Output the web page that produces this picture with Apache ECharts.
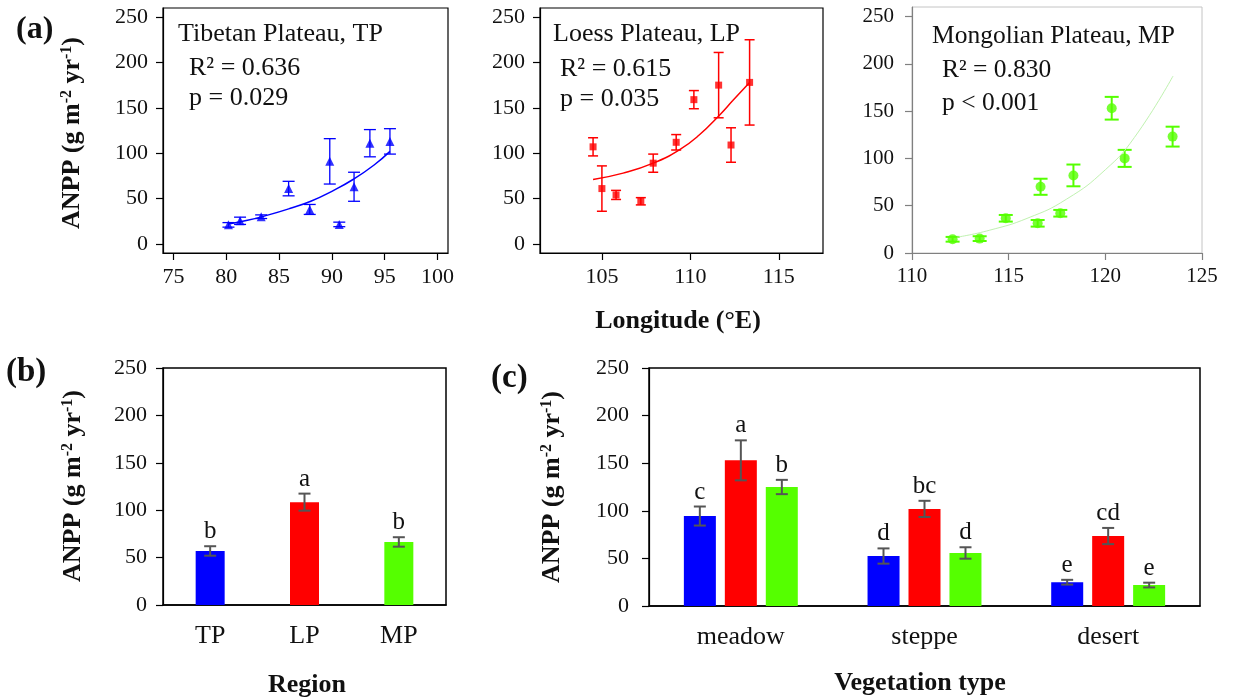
<!DOCTYPE html>
<html>
<head>
<meta charset="utf-8">
<script src="https://cdn.jsdelivr.net/npm/echarts@6.0.0/dist/echarts.min.js"></script>
<style>
  html, body { margin: 0; padding: 0; background: #fff; }
  #main { width: 1234px; height: 700px; }
</style>
</head>
<body>
<div id="main"></div>
<script>
// ---- data ----
const anppTicks = [0, 50, 100, 150, 200, 250]
const tpTicks = [75, 80, 85, 90, 95, 100]
const lpTicks = [105, 110, 115]
const mpTicks = [110, 115, 120, 125]

// (a) Tibetan Plateau
const tpLon = [80.2, 81.3, 83.3, 85.9, 87.9, 89.8, 90.7, 92.1, 93.6, 95.5]
const tpAnpp = [21, 25.5, 30, 61, 38, 91, 21.5, 63, 111, 113]
const tpErr = [2.5, 4, 2, 8, 5.5, 25, 2.5, 16, 15, 14]
const tpFitLon = [80.2, 82, 84, 86, 88, 90, 92, 94, 95.5]
const tpFitAnpp = [22, 26, 32, 39, 47, 58, 71, 87, 102]

// (a) Loess Plateau
const lpLon = [104.5, 105.0, 105.8, 107.2, 107.9, 109.2, 110.2, 111.6, 112.3, 113.35]
const lpAnpp = [107, 61, 54, 47, 89, 112, 159, 175, 109, 178]
const lpErr = [10, 25, 5, 4, 10, 8.5, 10, 36, 19, 47]
const lpFitLon = [104.5, 106.2, 107.9, 109.4, 110.5, 111.7, 112.4, 113.35]
const lpFitAnpp = [71, 78, 89, 104, 120, 143, 158, 178]

// (a) Mongolian Plateau
const mpLon = [112.1, 113.5, 114.85, 116.5, 116.65, 117.67, 118.35, 120.33, 121.0, 123.48]
const mpAnpp = [14.5, 15.2, 36.7, 31.4, 70, 42, 82, 153, 100, 123]
const mpErr = [2.5, 2.5, 3.5, 3.5, 8.5, 3.5, 11.5, 12, 9, 10.5]
const mpFitLon = [112.3, 114, 116, 118, 120, 121.5, 123.5]
const mpFitAnpp = [16.6, 24, 37, 57, 88, 122, 187]

// (b) by region
const regions = ['TP', 'LP', 'MP']
const regionMean = [57, 108.5, 66.5]
const regionErr = [5, 9, 5]
const regionLetters = ['b', 'a', 'b']

// (c) by vegetation type
const vegTypes = ['meadow', 'steppe', 'desert']
const vegTP = [94.5, 52.5, 25]
const vegTPErr = [10, 8, 2.5]
const vegTPLetters = ['c', 'd', 'e']
const vegLP = [153, 102, 73.5]
const vegLPErr = [21, 8.5, 8.5]
const vegLPLetters = ['a', 'bc', 'cd']
const vegMP = [125, 55.7, 22]
const vegMPErr = [7.5, 6, 2.5]
const vegMPLetters = ['b', 'd', 'e']

const BLUE = '#0000ff'
const RED = '#ff0000'
const GREEN = '#55ff00'
const FONT = 'Liberation Serif'

// ---- helpers ----
function pairs(xs, ys, extra) {
  return xs.map((x, i) => extra ? [x, ys[i], extra[i]] : [x, ys[i]])
}

function valAxis(grid, min, max, ticks, color, margin, size) {
  return {
    type: 'value', gridIndex: grid, min: min, max: max,
    axisLine: { show: true, onZero: false, lineStyle: { color: color, width: 1.2 } },
    axisTick: { show: true, customValues: ticks, length: 7, lineStyle: { color: color, width: 1.2 } },
    axisLabel: { customValues: ticks, margin: margin, fontFamily: FONT, fontSize: size || 22, color: '#111' },
    splitLine: { show: false }
  }
}

function catAxis(grid, cats) {
  return {
    type: 'category', gridIndex: grid, data: cats,
    axisLine: { lineStyle: { color: '#000', width: 1.5 } },
    axisTick: { alignWithLabel: true, length: 6, lineStyle: { color: '#000', width: 1.5 } },
    axisLabel: { margin: 18, fontFamily: FONT, fontSize: 26, color: '#111' }
  }
}

// vertical error bar with caps for scatter points
function scatterErr(xi, yi, data, color, cap, lw) {
  return {
    type: 'custom', xAxisIndex: xi, yAxisIndex: yi, z: 2,
    data: data, encode: { x: 0, y: 1 },
    renderItem: function(params, api) {
      const x = api.value(0), y = api.value(1), e = api.value(2)
      const a = api.coord([x, y + e]), b = api.coord([x, y - e])
      const st = { stroke: color, lineWidth: lw }
      return { type: 'group', children: [
        { type: 'line', shape: { x1: a[0], y1: a[1], x2: b[0], y2: b[1] }, style: st },
        { type: 'line', shape: { x1: a[0] - cap, y1: a[1], x2: a[0] + cap, y2: a[1] }, style: st },
        { type: 'line', shape: { x1: b[0] - cap, y1: b[1], x2: b[0] + cap, y2: b[1] }, style: st }
      ] }
    }
  }
}

// error bar + significance letter on top of a bar
function barErr(xi, yi, means, errs, letters, offset) {
  return {
    type: 'custom', xAxisIndex: xi, yAxisIndex: yi, z: 5,
    data: means.map((m, i) => [i, m, errs[i]]), encode: { x: 0, y: 1 },
    renderItem: function(params, api) {
      const i = api.value(0), y = api.value(1), e = api.value(2)
      const a = api.coord([i, y + e]), b = api.coord([i, y - e])
      const cx = a[0] + offset
      const st = { stroke: '#555', lineWidth: 2 }
      return { type: 'group', children: [
        { type: 'line', shape: { x1: cx, y1: a[1], x2: cx, y2: b[1] }, style: st },
        { type: 'line', shape: { x1: cx - 6, y1: a[1], x2: cx + 6, y2: a[1] }, style: st },
        { type: 'line', shape: { x1: cx - 6, y1: b[1], x2: cx + 6, y2: b[1] }, style: st },
        { type: 'text', x: cx, y: a[1] - 2, style: {
          text: letters[params.dataIndex], fontFamily: FONT, fontSize: 25, fill: '#111',
          align: 'center', verticalAlign: 'bottom' } }
      ] }
    }
  }
}

function txt(x, y, s, size, bold, align) {
  return { type: 'text', x: x, y: y, z: 10, style: {
    text: s, fontFamily: FONT, fontSize: size, fontWeight: bold ? 'bold' : 'normal',
    fill: '#111', align: align || 'left', verticalAlign: 'middle' } }
}

function yTitle(x, y) {
  return { type: 'text', x: x, y: y, rotation: Math.PI / 2, z: 10, style: {
    text: 'ANPP (g m{sup|-2} yr{sup|-1})', fontFamily: FONT, fontSize: 26, fontWeight: 'bold',
    fill: '#111', align: 'center', verticalAlign: 'middle',
    rich: { sup: { fontFamily: FONT, fontSize: 16, fontWeight: 'bold', fill: '#111', verticalAlign: 'top', lineHeight: 26 } } } }
}

const chart = echarts.init(document.getElementById('main'))
chart.setOption({
  animation: false,
  backgroundColor: '#fff',
  grid: [
    { left: 163, top: 8, width: 285, height: 245, show: true, borderColor: '#000', borderWidth: 1.2 },
    { left: 540, top: 8, width: 283, height: 245, show: true, borderColor: '#000', borderWidth: 1.2 },
    { left: 912, top: 7, width: 290, height: 246, show: true, borderColor: '#c4c4c4', borderWidth: 1 },
    { left: 163, top: 368, width: 283, height: 237, show: true, borderColor: '#000', borderWidth: 1.5 },
    { left: 649, top: 368, width: 551, height: 238, show: true, borderColor: '#000', borderWidth: 1.5 }
  ],
  xAxis: [
    valAxis(0, 74, 101, tpTicks, '#000', 13),
    valAxis(1, 101.5, 117.5, lpTicks, '#000', 13),
    valAxis(2, 110, 125, mpTicks, '#808080', 13, 21),
    catAxis(3, regions),
    catAxis(4, vegTypes)
  ],
  yAxis: [
    valAxis(0, -10, 260, anppTicks, '#000', 15),
    valAxis(1, -10, 260, anppTicks, '#000', 15),
    valAxis(2, 0, 260, anppTicks, '#808080', 18, 21),
    Object.assign(valAxis(3, 0, 250, anppTicks, '#000', 16), { interval: 50 }),
    Object.assign(valAxis(4, 0, 250, anppTicks, '#000', 20), { interval: 50 })
  ],
  series: [
    // Tibetan Plateau
    scatterErr(0, 0, pairs(tpLon, tpAnpp, tpErr), BLUE, 6, 1.3),
    { type: 'line', xAxisIndex: 0, yAxisIndex: 0, smooth: true, symbol: 'none', z: 2,
      data: pairs(tpFitLon, tpFitAnpp), lineStyle: { color: BLUE, width: 1.5 } },
    { type: 'scatter', xAxisIndex: 0, yAxisIndex: 0, symbol: 'triangle', symbolSize: 9, z: 3,
      data: pairs(tpLon, tpAnpp), itemStyle: { color: BLUE } },
    // Loess Plateau
    scatterErr(1, 1, pairs(lpLon, lpAnpp, lpErr), RED, 5, 1.5),
    { type: 'line', xAxisIndex: 1, yAxisIndex: 1, smooth: true, symbol: 'none', z: 2,
      data: pairs(lpFitLon, lpFitAnpp), lineStyle: { color: RED, width: 1.5 } },
    { type: 'scatter', xAxisIndex: 1, yAxisIndex: 1, symbol: 'rect', symbolSize: 7, z: 3,
      data: pairs(lpLon, lpAnpp), itemStyle: { color: RED } },
    // Mongolian Plateau
    scatterErr(2, 2, pairs(mpLon, mpAnpp, mpErr), GREEN, 7, 2),
    { type: 'line', xAxisIndex: 2, yAxisIndex: 2, smooth: true, symbol: 'none', z: 2,
      data: pairs(mpFitLon, mpFitAnpp), lineStyle: { color: '#c0f2b0', width: 1 } },
    { type: 'scatter', xAxisIndex: 2, yAxisIndex: 2, symbol: 'circle', symbolSize: 10, z: 3,
      data: pairs(mpLon, mpAnpp), itemStyle: { color: GREEN } },
    // (b) region means
    { type: 'bar', xAxisIndex: 3, yAxisIndex: 3, barWidth: 29,
      data: regionMean.map((v, i) => ({ value: v, itemStyle: { color: [BLUE, RED, GREEN][i] } })) },
    barErr(3, 3, regionMean, regionErr, regionLetters, 0),
    // (c) vegetation types
    { type: 'bar', xAxisIndex: 4, yAxisIndex: 4, barWidth: 32, barGap: '28%', data: vegTP, itemStyle: { color: BLUE } },
    { type: 'bar', xAxisIndex: 4, yAxisIndex: 4, barWidth: 32, barGap: '28%', data: vegLP, itemStyle: { color: RED } },
    { type: 'bar', xAxisIndex: 4, yAxisIndex: 4, barWidth: 32, barGap: '28%', data: vegMP, itemStyle: { color: GREEN } },
    barErr(4, 4, vegTP, vegTPErr, vegTPLetters, -41),
    barErr(4, 4, vegLP, vegLPErr, vegLPLetters, 0),
    barErr(4, 4, vegMP, vegMPErr, vegMPLetters, 41)
  ],
  graphic: [
    txt(16, 30, '(a)', 32, true),
    txt(6, 372, '(b)', 33, true),
    txt(491, 378, '(c)', 33, true),
    yTitle(72, 133),
    yTitle(73, 486),
    yTitle(552, 487),
    txt(678, 321, 'Longitude (°E)', 26, true, 'center'),
    txt(307, 685, 'Region', 26, true, 'center'),
    txt(920, 683, 'Vegetation type', 26, true, 'center'),
    txt(178, 34, 'Tibetan Plateau, TP', 26),
    txt(189, 68, 'R² = 0.636', 26),
    txt(189, 98, 'p = 0.029', 26),
    txt(553, 34, 'Loess Plateau, LP', 26),
    txt(560, 69, 'R² = 0.615', 26),
    txt(560, 99, 'p = 0.035', 26),
    txt(932, 36, 'Mongolian Plateau, MP', 25.5),
    txt(942, 70, 'R² = 0.830', 25.5),
    txt(942, 103, 'p < 0.001', 25.5)
  ]
})
window.addEventListener('resize', () => {
  chart.resize()
})
</script>
</body>
</html>
